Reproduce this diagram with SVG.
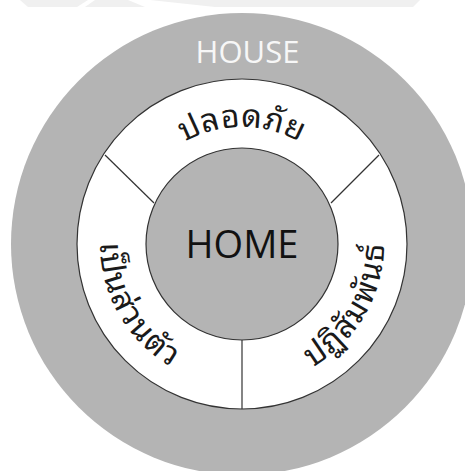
<svg xmlns="http://www.w3.org/2000/svg" width="465" height="471" viewBox="0 0 465 471">
  <style>
    .ring { fill: #ffffff; stroke: #333333; stroke-width: 1.2; }
    .core { fill: #b4b4b4; stroke: #333333; stroke-width: 1.2; }
    .div { stroke: #333333; stroke-width: 1.2; fill: none; }
    .thai { font-family: "Noto Sans Thai Looped", "Noto Sans Thai", "Noto Sans", "DejaVu Sans", sans-serif; font-size: 32px; fill: #1a1a1a; }
    .lat { font-family: "Open Sans", "Noto Sans", sans-serif; }
  </style>
  <defs>
    <path id="pTop" d="M125,244 A117,117 0 0 1 359,244"/>
    <path id="pLeft" d="M171,121 A142,142 0 0 0 313,367"/>
    <path id="pRight" d="M171,367 A142,142 0 0 0 313,121"/>
  </defs>
  <rect x="0" y="0" width="465" height="471" fill="#ffffff"/>
  <g id="watermark">
    <polygon points="20,0 88,0 77,7 28,7" fill="#f0f0f0"/>
    <polygon points="95,0 128,0 145,7 85,7" fill="#f0f0f0"/>
    <polygon points="150,0 420,0 413,7 215,7" fill="#f0f0f0"/>
  </g>
  <g id="house">
    <circle cx="242" cy="244" r="231" fill="#b4b4b4"/>
    <text class="lat" x="247.5" y="63" font-size="31" fill="#f7f7f7" text-anchor="middle">HOUSE</text>
  </g>
  <g id="ring">
    <circle class="ring" cx="242" cy="244" r="165"/>
  </g>
  <g id="connectors">
    <line class="div" x1="105" y1="155" x2="154" y2="203"/>
    <line class="div" x1="379" y1="155" x2="331" y2="203"/>
    <line class="div" x1="242" y1="340" x2="242" y2="409"/>
  </g>
  <g id="safe">
    <text class="thai" text-anchor="middle" letter-spacing="0.5"><textPath href="#pTop" startOffset="50%">ปลอดภัย</textPath></text>
  </g>
  <g id="private">
    <text class="thai" text-anchor="middle" letter-spacing="1.5"><textPath href="#pLeft" startOffset="50%">เป็นส่วนตัว</textPath></text>
  </g>
  <g id="interact">
    <text class="thai" text-anchor="middle" letter-spacing="1.5"><textPath href="#pRight" startOffset="50%">ปฏิสัมพันธ์</textPath></text>
  </g>
  <g id="home">
    <circle class="core" cx="242" cy="244" r="96"/>
    <text class="lat" x="242" y="258" font-size="38" fill="#111111" text-anchor="middle">HOME</text>
  </g>
</svg>
